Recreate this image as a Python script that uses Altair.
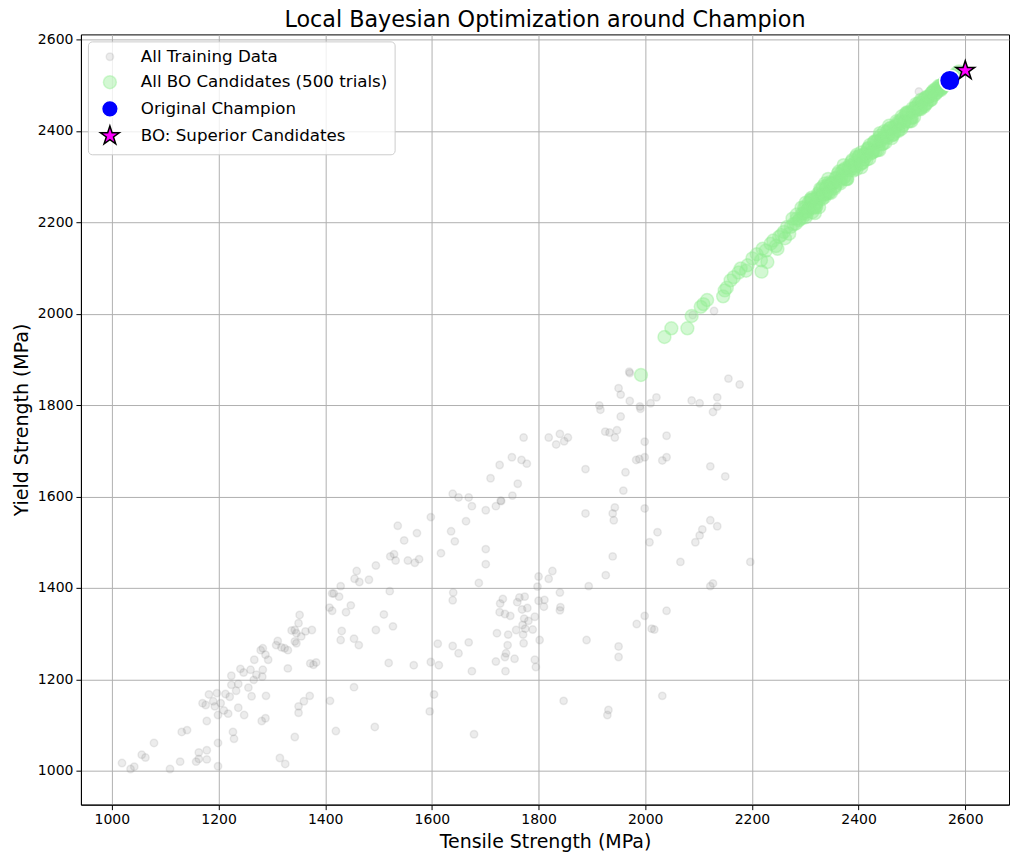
import altair as alt
import pandas as pd

# ---------------- data ----------------
train_t = [
    1019, 1035, 1042, 1056, 1063, 1079, 1109, 1128, 1131, 1141, 1158, 1163, 1163, 1178, 1178,
    1199, 1199, 1178, 1170, 1176, 1182, 1193, 1190, 1197, 1199, 1204, 1210, 1218, 1213, 1221,
    1224, 1224, 1233, 1237, 1227, 1229, 1237, 1248, 1241, 1247, 1256, 1262, 1260, 1267, 1266,
    1271, 1282, 1283, 1279, 1283, 1288, 1293, 1289, 1281, 1288, 1311, 1308, 1318, 1324, 1330,
    1330, 1337, 1343, 1346, 1352, 1350, 1343, 1346, 1355, 1363, 1375, 1372, 1378, 1383, 1350,
    1350, 1360, 1371, 1343, 1315, 1325, 1409, 1420, 1413, 1416, 1429, 1426, 1408, 1413, 1439,
    1431, 1429,
    1675, 1701, 1720, 1730, 1536, 1598, 1572, 1548, 1636, 1643, 1664, 1617, 1701, 1701, 1688,
    1522, 1529, 1532, 1555, 1568, 1576, 1495, 1459, 1455, 1464, 1482, 1521, 1448, 1510, 1527,
    1495, 1454, 1463, 1519, 1566, 1598, 1613, 1611, 1639, 1650, 1669, 1675, 1640, 1639, 1454,
    1493, 1604, 1596, 1679, 1847, 1733, 1728, 1764, 1774, 1760, 1769, 1779, 1727, 1737, 1747,
    1773, 1781, 1793, 1770, 1758, 1775, 1789, 1722, 1743, 1771, 1802, 1772, 1742, 1739, 1737,
    1755, 1720, 1738, 1793, 1795, 1800, 1798, 1819, 1826, 1840, 1800, 1811, 1810, 1841, 1840,
    2066, 2197, 1926, 1894, 2122, 2127, 2040, 1999, 1984, 2012, 2017, 1890, 1950, 1950, 1931,
    1929, 2032,
    1970, 1971, 1950, 1954, 1971, 1914, 1916, 1991, 1990, 2010, 2021, 1954, 1925, 1933, 1947,
    1943, 1999, 2040, 2087, 2102, 2135, 2135, 2127, 2156, 2177, 1772, 1819, 1840, 1833, 1848,
    1855, 1750, 1768, 1778, 1727, 1710, 1761, 1751, 1729, 1639, 1650, 1669, 1888, 1963, 1959,
    1983, 1989, 1999, 2032, 2040, 2122, 2150, 1888, 1943, 1939, 1941, 1999, 2023, 2008, 1939,
    2122, 2135, 2107, 2102, 2094,
    2089, 2129, 2513, 2436,
]
train_y = [
    1017, 1004, 1009, 1035, 1029, 1061, 1004, 1020, 1085, 1089, 1020, 1026, 1040, 1025, 1045,
    1010, 1061, 1109, 1148, 1144, 1167, 1141, 1152, 1170, 1122, 1148, 1132, 1125, 1168, 1162,
    1188, 1208, 1175, 1190, 1085, 1070, 1138, 1122, 1223, 1215, 1182, 1163, 1221, 1243, 1199,
    1210, 1206, 1221, 1264, 1268, 1254, 1243, 1164, 1109, 1115, 1284, 1275, 1270, 1268, 1264,
    1224, 1307, 1308, 1301, 1341, 1323, 1283, 1279, 1294, 1305, 1308, 1235, 1232, 1237, 1141,
    1127, 1152, 1164, 1074, 1028, 1015, 1153, 1087, 1388, 1388, 1404, 1381, 1357, 1350, 1347,
    1306, 1286,
    1579, 1570, 1579, 1590, 1536, 1555, 1520, 1504, 1524, 1502, 1546, 1476, 1485, 1452, 1411,
    1469, 1474, 1460, 1460, 1455, 1463, 1449, 1437, 1420, 1413, 1418, 1393, 1362, 1342, 1316,
    1308, 1289, 1275, 1236, 1231, 1238, 1231, 1278, 1273, 1257, 1281, 1218, 1390, 1373, 1183,
    1096, 1167, 1130, 1080, 1153, 1376, 1366, 1379, 1381, 1369, 1353, 1356, 1347, 1343, 1339,
    1333, 1328, 1337, 1319, 1308, 1311, 1309, 1301, 1298, 1298, 1286, 1279, 1275, 1257, 1249,
    1245, 1239, 1218, 1243, 1227, 1425, 1403, 1420, 1437, 1390, 1372, 1374, 1359, 1358, 1351,
    1457, 1457, 1428, 1404, 1404, 1410, 1350, 1339, 1321, 1311, 1309, 1286, 1272, 1249, 1133,
    1122, 1164,
    1873, 1870, 1837, 1823, 1809, 1799, 1790, 1792, 1797, 1804, 1817, 1775, 1742, 1740, 1745,
    1729, 1720, 1733, 1810, 1804, 1817, 1797, 1785, 1858, 1845, 1729, 1729, 1737, 1714, 1721,
    1729, 1686, 1680, 1672, 1669, 1640, 1628, 1602, 1591, 1606, 1598, 1598, 1660, 1653, 1613,
    1680, 1682, 1686, 1679, 1686, 1666, 1644, 1563, 1576, 1563, 1548, 1574, 1522, 1500, 1469,
    1548, 1535, 1528, 1515, 1500,
    1997, 2006, 2486, 2382,
]

bo_t = [
    1992, 2036, 2049, 2079, 2087, 2104, 2116, 2109, 2146, 2149, 2153, 2160, 2166, 2179, 2175,
    2189, 2192, 2201, 2209, 2218, 2220, 2226, 2217, 2229, 2235, 2248, 2251, 2260, 2270, 2273,
    2282, 2276, 2288, 2294, 2301, 2307, 2313, 2320, 2326, 2332, 2338, 2341,
    2240, 2255, 2262, 2245, 2266, 2278, 2284,
    2284, 2290, 2293, 2297, 2300, 2303, 2306, 2309, 2312, 2315, 2318, 2321, 2324, 2327, 2330,
    2333, 2336, 2339, 2342, 2345, 2348, 2351, 2354, 2357, 2360, 2363, 2366, 2369, 2372, 2375,
    2378, 2381, 2384, 2387, 2390, 2393, 2396, 2399, 2402, 2405, 2408, 2411, 2414, 2417, 2420,
    2423, 2426, 2429, 2432, 2435, 2438, 2441, 2444, 2447, 2450, 2453, 2456, 2459, 2462, 2465,
    2468, 2471, 2474, 2477, 2480, 2483, 2486, 2489, 2492, 2495, 2498, 2501, 2504, 2507, 2510,
    2513, 2516, 2519, 2522, 2525, 2528, 2531, 2534, 2537, 2540, 2543, 2546, 2549, 2552, 2555,
    2558, 2561, 2564, 2567, 2570, 2574, 2578, 2583, 2588,
    2301, 2311, 2320, 2329, 2338, 2347, 2356, 2365, 2374, 2383, 2392, 2401, 2410, 2419, 2428,
    2437, 2446, 2455, 2464, 2473, 2482, 2491, 2500, 2509, 2518, 2527, 2536, 2545, 2554, 2563,
    2572, 2318, 2343, 2372, 2405, 2440, 2395,
    2295, 2301, 2307, 2313, 2319, 2325, 2331, 2337, 2343, 2349, 2355, 2361, 2367, 2373, 2379,
    2385, 2391, 2397, 2403, 2409, 2415, 2421, 2427, 2433, 2439, 2445, 2451, 2457, 2463, 2469,
    2475, 2481, 2487, 2493, 2499, 2505, 2511, 2517, 2523, 2529, 2535, 2541, 2547, 2553, 2559,
    2565,
    2298, 2304, 2310, 2316, 2322, 2328, 2334, 2340, 2346, 2352, 2358, 2364, 2370, 2376, 2382,
    2388, 2394, 2400, 2406, 2412, 2418, 2424, 2430, 2436, 2442, 2448, 2454, 2460, 2466, 2472,
    2478, 2484, 2490, 2496, 2502, 2508, 2514, 2520, 2526, 2532, 2538, 2544, 2550, 2556, 2562,
    2568,
]
bo_y = [
    1866, 1949, 1968, 1968, 1995, 2015, 2030, 2021, 2038, 2051, 2057, 2073, 2080, 2099, 2090,
    2094, 2106, 2121, 2130, 2092, 2142, 2138, 2117, 2113, 2153, 2142, 2168, 2179, 2175, 2190,
    2197, 2208, 2204, 2219, 2211, 2230, 2222, 2240, 2233, 2251, 2262, 2277,
    2160, 2172, 2165, 2148, 2190, 2196, 2208,
    2217, 2207, 2232, 2220, 2231, 2218, 2242, 2235, 2254, 2234, 2251, 2235, 2263, 2251, 2260,
    2278, 2255, 2275, 2269, 2287, 2264, 2286, 2277, 2297, 2290, 2311, 2285, 2303, 2297, 2318,
    2294, 2320, 2314, 2332, 2313, 2330, 2316, 2340, 2335, 2353, 2331, 2349, 2344, 2361, 2339,
    2359, 2353, 2375, 2356, 2376, 2370, 2390, 2371, 2385, 2374, 2398, 2391, 2406, 2384, 2406,
    2398, 2421, 2402, 2416, 2404, 2428, 2420, 2438, 2420, 2437, 2429, 2449, 2430, 2451, 2446,
    2461, 2447, 2462, 2456, 2472, 2461, 2474, 2470, 2483, 2477, 2488, 2484, 2493, 2490, 2499,
    2497, 2505, 2504, 2510, 2512, 2518, 2520, 2526, 2530,
    2222, 2248, 2241, 2270, 2262, 2284, 2279, 2305, 2300, 2325, 2318, 2345, 2337, 2363, 2355,
    2383, 2372, 2400, 2393, 2418, 2410, 2436, 2428, 2455, 2451, 2474, 2468, 2492, 2489, 2509,
    2508, 2220, 2295, 2325, 2320, 2395, 2343,
    2210, 2243, 2231, 2250, 2232, 2260, 2260, 2285, 2264, 2282, 2274, 2306, 2294, 2314, 2295,
    2323, 2323, 2348, 2327, 2345, 2337, 2369, 2357, 2377, 2358, 2386, 2387, 2411, 2390, 2409,
    2400, 2432, 2421, 2440, 2421, 2449, 2450, 2468, 2453, 2472, 2467, 2489, 2485, 2499, 2496,
    2510,
    2233, 2225, 2250, 2232, 2253, 2273, 2258, 2280, 2266, 2286, 2296, 2288, 2313, 2295, 2316,
    2336, 2322, 2343, 2329, 2350, 2359, 2351, 2377, 2358, 2379, 2399, 2385, 2406, 2392, 2413,
    2422, 2414, 2440, 2421, 2442, 2459, 2448, 2467, 2458, 2476, 2484, 2480, 2498, 2493, 2507,
    2508,
]

champ_t = [2571]
champ_y = [2510]
sup_t = [2600]
sup_y = [2532]

series_names = [
    "All Training Data",
    "All BO Candidates (500 trials)",
    "Original Champion",
    "BO: Superior Candidates",
]
fill_colors = ["rgba(128,128,128,0.15)", "rgba(144,238,144,0.4)", "blue", "magenta"]
edge_colors = ["rgba(128,128,128,0.15)", "rgba(144,238,144,0.4)", "white", "black"]
STAR = ("M0,-1L0.2245,-0.309L0.951,-0.309L0.363,0.118L0.588,0.809L0,0.382"
        "L-0.588,0.809L-0.363,0.118L-0.951,-0.309L-0.2245,-0.309Z")
shapes = ["circle", "circle", "circle", STAR]
size_range = [55, 390]
champion_size = 420

x_ticks = [1000, 1200, 1400, 1600, 1800, 2000, 2200, 2400, 2600]
y_ticks = [1000, 1200, 1400, 1600, 1800, 2000, 2200, 2400, 2600]

# ---------------- table ----------------
frames = []
for name, ts, ys in zip(series_names, [train_t, bo_t, champ_t, sup_t], [train_y, bo_y, champ_y, sup_y]):
    frames.append(pd.DataFrame({"T": ts, "Y": ys, "S": name}))
df = pd.concat(frames, ignore_index=True)

FONT = "DejaVu Sans"
legend = alt.Legend(title=None)

def sc(rng):
    return alt.Scale(domain=series_names, range=rng)

base = (
    alt.Chart(df)
    .mark_point(filled=True, strokeWidth=1.5, opacity=1)
    .encode(
        x=alt.X(
            "T:Q",
            scale=alt.Scale(domain=[942, 2682], nice=False, zero=False),
            axis=alt.Axis(values=x_ticks, title="Tensile Strength (MPa)", format="d"),
        ),
        y=alt.Y(
            "Y:Q",
            scale=alt.Scale(domain=[926, 2611], nice=False, zero=False),
            axis=alt.Axis(values=y_ticks, title="Yield Strength (MPa)", format="d"),
        ),
        color=alt.Color("S:N", scale=sc(fill_colors), legend=legend),
        stroke=alt.Stroke("S:N", scale=sc(edge_colors), legend=legend),
        shape=alt.Shape("S:N", scale=sc(shapes), legend=legend),
        size=alt.Size(
            "S:N",
            scale=alt.Scale(type="point", domain=series_names, range=size_range, padding=0),
            legend=legend,
        ),
    )
)

layer_clouds = base.transform_filter(
    alt.FieldOneOfPredicate(field="S", oneOf=series_names[:2])
)
layer_champ = base.transform_filter(
    alt.FieldEqualPredicate(field="S", equal=series_names[2])
).encode(size=alt.value(champion_size))
layer_star = base.transform_filter(
    alt.FieldEqualPredicate(field="S", equal=series_names[3])
)

chart = (
    alt.layer(layer_clouds, layer_champ, layer_star)
    .properties(
        width=929,
        height=771,
        title=alt.TitleParams(
            "Local Bayesian Optimization around Champion",
            fontSize=22.3,
            fontWeight="normal",
            font=FONT,
            color="black",
            anchor="middle",
            offset=1,
        ),
        autosize=alt.AutoSizeParams(type="none"),
        padding={"left": 73, "top": 26, "right": 2, "bottom": 57},
    )
    .configure_view(stroke="black", strokeWidth=1)
    .configure_legend(
        orient="top-left",
        offset=7,
        fillColor="rgba(255,255,255,0.8)",
        strokeColor="#cccccc",
        cornerRadius=4,
        padding=7,
        labelFontSize=16.7,
        labelFont=FONT,
        labelColor="black",
        labelLimit=500,
        rowPadding=1.5,
        gridAlign="all",
        symbolOffset=4,
        labelOffset=20,
        symbolStrokeWidth=1.5,
    )
    .configure_axis(
        grid=True,
        gridColor="#b0b0b0",
        gridWidth=1,
        domainColor="black",
        domainWidth=1,
        tickColor="black",
        tickSize=5,
        labelFontSize=14,
        labelFont=FONT,
        labelColor="black",
        labelPadding=3,
        titleFontSize=19,
        titleFont=FONT,
        titleFontWeight="normal",
        titleColor="black",
        titlePadding=6,
    )
)

chart.save("out.html", embed_options={"renderer": "svg", "actions": False})
